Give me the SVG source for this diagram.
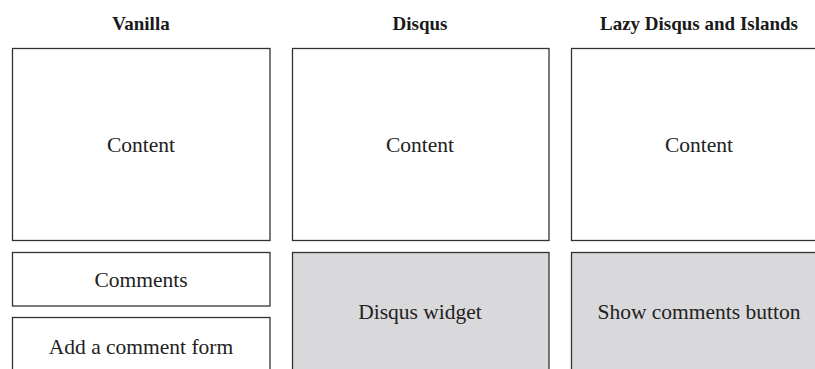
<svg xmlns="http://www.w3.org/2000/svg" width="815" height="369" viewBox="0 0 815 369">
<style>
.box{fill:#ffffff;stroke:#333333;stroke-width:1.3}
.gray{fill:#d9d9db;stroke:#333333;stroke-width:1.3}
.h{font-family:"Liberation Serif","DejaVu Serif",serif;font-weight:bold;font-size:19px;fill:#1a1a1a;text-anchor:middle}
.t{font-family:"Liberation Serif","DejaVu Serif",serif;font-size:21.5px;fill:#222222;text-anchor:middle}
</style>
<rect width="815" height="369" fill="#ffffff"/>
<g id="headings">
<text class="h" x="141" y="30">Vanilla</text>
<text class="h" x="420" y="30">Disqus</text>
<text class="h" x="699" y="30">Lazy Disqus and Islands</text>
</g>
<g id="vanilla-content"><rect class="box" x="12.5" y="48.5" width="257.5" height="192"/><text class="t" x="141" y="152">Content</text></g>
<g id="vanilla-comments"><rect class="box" x="12.5" y="252.5" width="257.5" height="53.5"/><text class="t" x="141" y="287">Comments</text></g>
<g id="vanilla-form"><rect class="box" x="12.5" y="317.5" width="257.5" height="70"/><text class="t" x="141" y="354">Add a comment form</text></g>
<g id="disqus-content"><rect class="box" x="292.5" y="48.5" width="256.5" height="192"/><text class="t" x="420" y="152">Content</text></g>
<g id="disqus-widget"><rect class="gray" x="292.5" y="252.5" width="256.5" height="140"/><text class="t" x="420" y="319">Disqus widget</text></g>
<g id="lazy-content"><rect class="box" x="571.5" y="48.5" width="258" height="192"/><text class="t" x="699" y="152">Content</text></g>
<g id="lazy-button"><rect class="gray" x="571.5" y="252.5" width="258" height="140"/><text class="t" x="699" y="319">Show comments button</text></g>
<g id="connectors"></g>
</svg>
